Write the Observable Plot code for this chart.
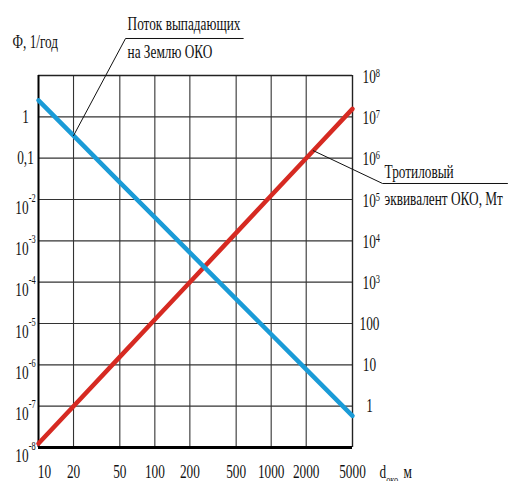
<!DOCTYPE html>
<html><head><meta charset="utf-8">
<script src="https://cdn.jsdelivr.net/npm/d3@7"></script>
<script src="https://cdn.jsdelivr.net/npm/@observablehq/plot@0.6"></script>
<style>
html,body{margin:0;padding:0;background:#fff;overflow:hidden}
svg{display:block}
</style>
</head><body><div id="chart"></div>
<script>
// ---- data ----
const diameters = [10, 20, 50, 100, 200, 500, 1000, 2000, 5000];           // d_око, м
const flux = [2.5, 0.35, 0.026, 0.0037, 5.2e-4, 3.9e-5, 5.5e-6, 7.8e-7, 5.8e-8]; // Ф, 1/год (left axis)
const tnt = [0.125, 1, 15.6, 125, 1000, 15600, 125000, 1e6, 1.56e7];     // Мт (right axis)
const rightScale = 1e7; // right-axis value = left-axis value × 1e7

const xTicks = [10, 20, 50, 100, 200, 500, 1000, 2000, 5000];
const xTickLabels = ["10", "20", "50", "100", "200", "500", "1000", "2000", "5000"];
const xGrid = [20, 50, 100, 200, 500, 1000, 2000];
const yGrid = [1, 0.1, 1e-2, 1e-3, 1e-4, 1e-5, 1e-6, 1e-7];

const leftPlainTicks = [1, 0.1];
const leftPlainLabels = ["1", "0,1"];
const leftPowTicks = [1e-2, 1e-3, 1e-4, 1e-5, 1e-6, 1e-7, 1e-8];
const leftPowLabels = ["10^-2", "10^-3", "10^-4", "10^-5", "10^-6", "10^-7", "10^-8"];
const rightPowTicks = [1e8, 1e7, 1e6, 1e5, 1e4, 1e3];
const rightPowLabels = ["10^8", "10^7", "10^6", "10^5", "10^4", "10^3"];
const rightPlainTicks = [100, 10, 1];
const rightPlainLabels = ["100", "10", "1"];

const yTitle = "Ф, 1/год";
const xTitle = "d_око, м";
const fluxLabel = ["Поток выпадающих", "на Землю ОКО"];
const tntLabel = ["Тротиловый", "эквивалент ОКО, Мт"];
// callout leader lines (data coordinates)
const fluxCallout = [{d: 20, v: 0.35}, {d: 56, v: 78.6}, {d: 575, v: 78.6}];
const tntCallout = [{d: 2300, e: 1.52e6}, {d: 9060, e: 2.44e5}, {d: 107400, e: 2.44e5}];

const blue = "#1a9bd7";
const red = "#d62a22";

// ---- build ----
const rows = diameters.map((d, i) => ({d, flux: flux[i], tnt: tnt[i] / rightScale}));
const lbl = (ticks, labels) => ticks.map((v, i) => ({v, label: labels[i]}));
const xLab = lbl(xTicks, xTickLabels);
const T = {lineAnchor: "middle"};

const svg = Plot.plot({
  width: 509, height: 481,
  marginLeft: 38, marginRight: 157, marginTop: 75, marginBottom: 34,
  x: {type: "log", domain: [10, 5000], axis: null},
  y: {type: "log", domain: [1e-8, 10], axis: null},
  style: {fontFamily: "'Liberation Serif', 'Times New Roman', serif", fontSize: "19px", color: "#111", background: "#fff", overflow: "visible"},
  marks: [
    Plot.ruleX(xGrid, {stroke: "#333", strokeWidth: 1.1}),
    Plot.ruleY(yGrid, {stroke: "#333", strokeWidth: 1.1}),
    Plot.ruleX([5000], {stroke: "#222", strokeWidth: 1.4}),
    Plot.ruleY([10], {stroke: "#222", strokeWidth: 1.4}),
    Plot.ruleX([10], {stroke: "#000", strokeWidth: 2}),
    Plot.ruleY([1e-8], {stroke: "#000", strokeWidth: 3}),
    Plot.line(rows, {x: "d", y: "tnt", stroke: red, strokeWidth: 4.5}),
    Plot.line(rows, {x: "d", y: "flux", stroke: blue, strokeWidth: 4.5}),
    // callouts
    Plot.line(fluxCallout, {x: "d", y: "v", stroke: "#111", strokeWidth: 1}),
    Plot.line(tntCallout, {x: "d", y: d => d.e / rightScale, stroke: "#111", strokeWidth: 1}),
    Plot.text([fluxLabel[0]], {...T, x: () => fluxCallout[1].d, y: () => fluxCallout[1].v, text: d => d, textAnchor: "start", dx: 2, dy: -14.5, className: "cond"}),
    Plot.text([fluxLabel[1]], {...T, x: () => fluxCallout[1].d, y: () => fluxCallout[1].v, text: d => d, textAnchor: "start", dx: 2, dy: 13, className: "cond"}),
    Plot.text([tntLabel[0]], {...T, x: () => tntCallout[1].d, y: () => tntCallout[1].e / rightScale, text: d => d, textAnchor: "start", dx: 2, dy: -11.5, className: "cond"}),
    Plot.text([tntLabel[1]], {...T, x: () => tntCallout[1].d, y: () => tntCallout[1].e / rightScale, text: d => d, textAnchor: "start", dx: 2, dy: 15.5, className: "cond"}),
    // left axis labels
    Plot.text(lbl(leftPlainTicks, leftPlainLabels), {...T, y: "v", text: "label", frameAnchor: "left", dx: -13, textAnchor: "middle", className: "cond"}),
    Plot.text(lbl(leftPowTicks, leftPowLabels), {...T, y: "v", text: "label", frameAnchor: "left", dx: -13, dy: 8, textAnchor: "middle", className: "cond leftpow"}),
    // right axis labels
    Plot.text(lbl(rightPowTicks, rightPowLabels), {...T, y: d => d.v / rightScale, text: "label", frameAnchor: "right", dx: 10, dy: 1, textAnchor: "start", className: "cond rightpow"}),
    Plot.text(lbl(rightPlainTicks, rightPlainLabels), {...T, y: d => d.v / rightScale, text: "label", frameAnchor: "right", dx: 17, textAnchor: "middle", className: "cond"}),
    // x axis labels
    Plot.text(xLab.slice(0, 1), {...T, x: "v", text: "label", frameAnchor: "bottom", dx: 6, dy: 24, className: "cond"}),
    Plot.text(xLab.slice(1), {...T, x: "v", text: "label", frameAnchor: "bottom", dy: 24, className: "cond"}),
    // titles
    Plot.text([xTitle], {...T, text: d => d, frameAnchor: "bottom-right", dx: 27, dy: 24, textAnchor: "start", className: "cond xtitle"}),
    Plot.text([yTitle], {...T, text: d => d, frameAnchor: "top-left", dx: -26, dy: -34, textAnchor: "start", className: "cond"})
  ]
});

const NS = "http://www.w3.org/2000/svg";
function addSpan(el, txt, size, dy) {
  const s = document.createElementNS(NS, "tspan");
  s.textContent = txt;
  if (size) s.setAttribute("font-size", size);
  if (dy) s.setAttribute("dy", dy);
  el.appendChild(s);
}
// superscripts
d3.select(svg).selectAll("g.leftpow text, g.rightpow text").each(function() {
  const isLeft = this.parentNode.classList.contains("leftpow");
  const t = this.textContent;
  const k = t.indexOf("^");
  if (k < 0) return;
  this.textContent = t.slice(0, k);
  addSpan(this, t.slice(k + 1), "12px", isLeft ? "-12" : "-6");
});
// subscript in x title
d3.select(svg).selectAll("g.xtitle text").each(function() {
  const t = this.textContent;
  const k = t.indexOf("_");
  const rest = t.slice(k + 1);
  const j = rest.indexOf(",");
  this.textContent = t.slice(0, k);
  addSpan(this, rest.slice(0, j + 1), "12px", "6");
  addSpan(this, rest.slice(j + 1), null, "-6");
});
// condensed serif look: horizontal squeeze of each label around its anchor
d3.select(svg).selectAll("g.cond text").each(function() {
  const tr = this.getAttribute("transform") || "";
  this.setAttribute("transform", `${tr} scale(0.7,1)`);
});

document.getElementById("chart").appendChild(svg);
</script>
</body></html>
